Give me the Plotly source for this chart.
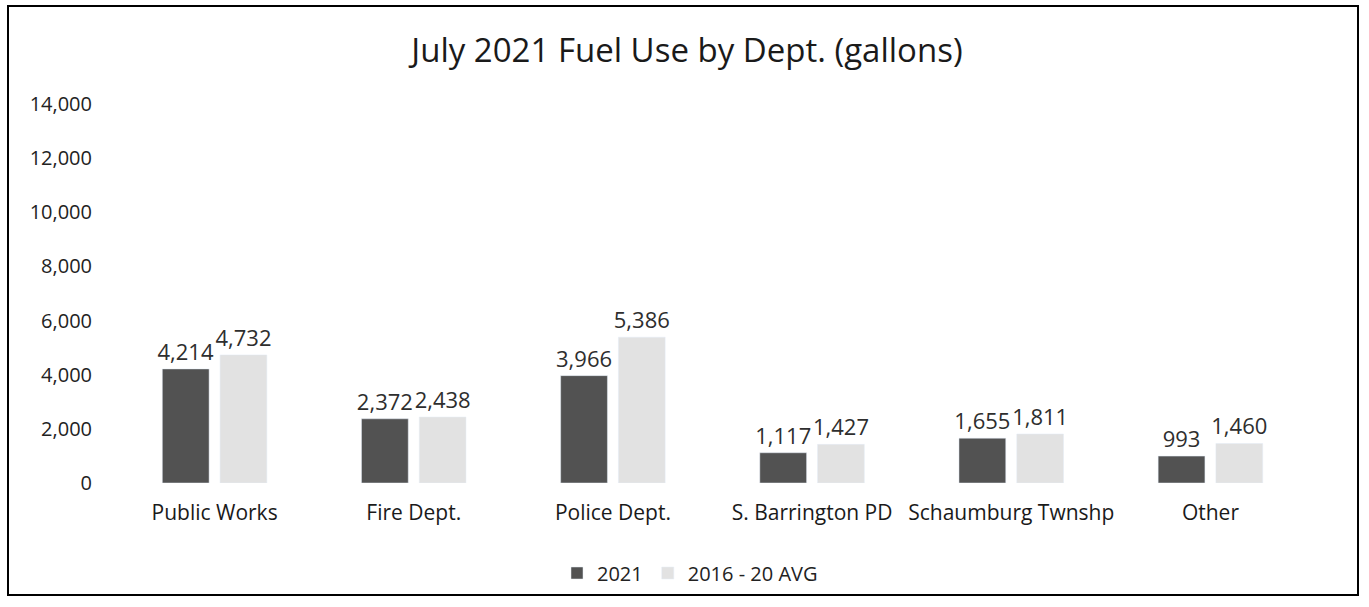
import plotly.graph_objects as go

categories = ["Public Works", "Fire Dept.", "Police Dept.", "S. Barrington PD", "Schaumburg Twnshp", "Other"]
values_2021 = [4214, 2372, 3966, 1117, 1655, 993]
values_avg = [4732, 2438, 5386, 1427, 1811, 1460]
series_names = ["2021", "2016 - 20 AVG"]

W, H = 1369, 607
L, R, T, B = 115, 59, 104, 124
pw, ph = W - L - R, H - T - B

def px_x(x):
    return (x - L) / pw

def px_y(y):
    return (H - B - y) / ph

font_family = "Open Sans, sans-serif"
text_color = "#2e2e2e"

fig = go.Figure()
fig.add_trace(go.Bar(
    x=categories, y=values_2021, name=series_names[0],
    marker=dict(color="#525252"),
    text=[f"{v:,}" for v in values_2021], textposition="outside", constraintext="none",
    textfont=dict(size=22, color=text_color, family=font_family),
    cliponaxis=False,
))
fig.add_trace(go.Bar(
    x=categories, y=values_avg, name=series_names[1],
    marker=dict(color="#e2e2e2"),
    text=[f"{v:,}" for v in values_avg], textposition="outside", constraintext="none",
    textfont=dict(size=22, color=text_color, family=font_family),
    cliponaxis=False,
))

fig.update_layout(
    width=W, height=H,
    margin=dict(l=L, r=R, t=T, b=B),
    paper_bgcolor="white", plot_bgcolor="white",
    barmode="group", bargap=0.42, bargroupgap=0.19,
    font=dict(family=font_family, color=text_color, size=18),
    title=dict(text="July 2021 Fuel Use by Dept. (gallons)", x=687 / W, xref="container",
               y=1 - 50 / H, yref="container",
               xanchor="center", yanchor="middle",
               font=dict(size=33, color="#1a1a1a", family=font_family)),
    legend=dict(orientation="h", x=px_x(690), xanchor="center", y=px_y(573), yanchor="middle",
                font=dict(size=20, color="#222222"), itemwidth=30, traceorder="normal"),
    showlegend=True,
)
fig.update_yaxes(range=[0, 14000], dtick=2000, tickformat=",", showgrid=False, zeroline=False,
                 showline=False, ticks="", ticklabelstandoff=22,
                 tickfont=dict(size=20, color="#222222"))
fig.update_xaxes(showgrid=False, showline=False, ticks="", ticklabelstandoff=15,
                 tickfont=dict(size=21, color="#1a1a1a"))

fig.add_shape(type="rect", xref="paper", yref="paper",
              x0=px_x(8), x1=px_x(1358), y0=px_y(595), y1=px_y(6),
              line=dict(color="black", width=2), fillcolor="rgba(0,0,0,0)", layer="below")

fig.write_html("out.html")
